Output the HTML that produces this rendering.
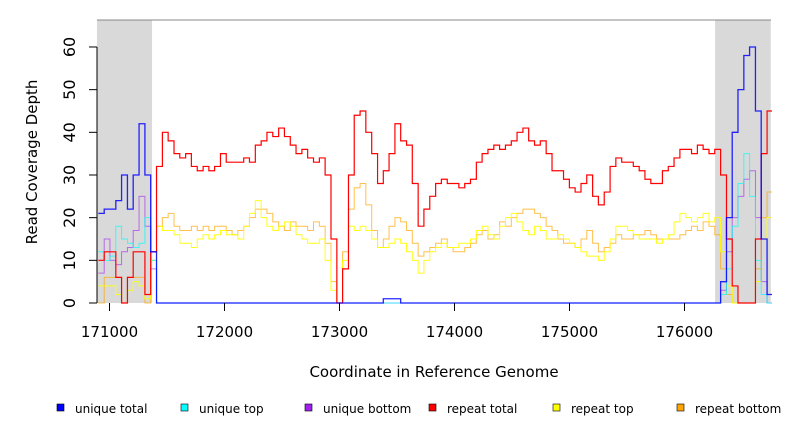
<!DOCTYPE html>
<html><head><meta charset="utf-8"><style>
html,body{margin:0;padding:0;background:#fff}
svg{display:block;font-family:"DejaVu Sans","Liberation Sans",sans-serif}
</style></head><body>
<svg id="chart" width="792" height="432"></svg>
<script>
const xTicks=[171000,172000,173000,174000,175000,176000];
const yTicks=[0,10,20,30,40,50,60];
const shaded=[[170891,171370],[176266,176750]];
const redX=[170903,170954,171004,171055,171105,171156,171206,171257,171308,171358,
171409,171460,171510,171561,171611,171662,171712,171763,171814,171864,
171914,171965,172015,172066,172116,172167,172217,172268,172319,172369,
172420,172471,172521,172572,172622,172673,172723,172774,172825,172875,
172926,172977,173027,173078,173128,173179,173229,173280,173331,173381,
173431,173482,173532,173583,173633,173684,173734,173785,173836,173886,
173937,173988,174038,174089,174139,174190,174240,174291,174342,174392,
174443,174494,174544,174595,174645,174696,174746,174797,174848,174898,
174948,174999,175049,175100,175150,175201,175251,175302,175353,175403,
175454,175505,175555,175606,175656,175707,175757,175808,175859,175909,
175960,176011,176061,176112,176162,176213,176263,176314,176365,176415,
176465,176516,176566,176617,176667,176718,176769];
const redY=[10,12,12,6,0,6,12,12,2,12,32,40,38,35,34,35,32,31,32,31,32,35,33,33,33,34,33,37,38,40,39,41,39,37,35,36,34,33,34,30,15,0,8,30,44,45,40,35,28,31,35,42,38,37,28,18,22,25,28,29,28,28,27,28,29,33,35,36,37,36,37,38,40,41,38,37,38,35,31,31,29,27,26,28,30,25,23,26,32,34,33,33,32,31,29,28,28,31,32,34,36,36,35,37,36,35,36,30,15,4,0,0,0,15,35,45,42];
const yelX=redX;
const yelY=[4,4,4,2,0,3,5,4,1,10,18,17,17,16,14,14,13,15,16,15,16,17,16,16,15,18,21,24,20,18,17,18,19,18,16,15,14,14,15,10,3,0,10,18,17,18,17,15,13,13,14,15,14,12,10,7,10,12,13,14,13,13,14,14,15,17,18,16,15,18,20,21,19,17,16,18,17,15,15,16,15,14,13,12,11,11,10,12,15,18,18,17,16,15,15,15,14,15,16,19,21,20,19,20,21,19,20,12,4,0,0,0,0,5,15,20,19];
const oraX=redX;
const oraY=[0,6,6,6,0,6,6,6,0,10,18,20,21,18,17,17,18,17,18,17,18,18,17,16,17,18,20,22,22,21,19,18,17,19,18,18,17,19,18,14,5,0,12,22,27,28,23,17,13,15,18,20,19,17,14,11,12,13,14,15,13,12,12,13,14,16,17,15,16,19,18,20,21,22,22,21,20,18,17,15,14,14,13,15,17,14,12,13,14,16,15,15,16,16,17,16,15,15,15,15,16,17,18,17,19,18,16,8,2,0,0,0,0,8,20,26,24];
const blueX=[170903,170954,171004,171055,171105,171156,171206,171257,171308,171358,171409,173381,173532,176263,176314,176365,176415,176465,176516,176566,176617,176667,176718,176769];
const blueY=[21,22,22,24,30,22,30,42,30,12,0,1,0,0,5,20,40,50,58,60,45,15,2,0];
const cyanX=[170903,170954,171004,171055,171105,171156,171206,171257,171308,171358,171409,176263,176314,176365,176415,176465,176516,176566,176617,176667,176718,176769];
const cyanY=[12,10,11,18,15,14,13,14,20,10,0,0,2,8,18,28,35,25,10,2,0,0];
const purpX=cyanX;
const purpY=[7,15,10,9,12,13,17,25,18,8,0,0,3,12,20,25,29,31,20,5,0,0];
const legendLabels=["unique total","unique top","unique bottom","repeat total","repeat top","repeat bottom"];
const legendColors=["#0000ff","#00ffff","#a020f0","#ff0000","#ffff00","#ffa500"];

const NS="http://www.w3.org/2000/svg";
const svg=document.getElementById('chart');
const L=97,R=771,T=20,B=303;
function xs(v){return 109.5+(v-171000)*0.115;}
function ys(v){return B-v*4.267;}
function mk(tag,attrs,parent){const e=document.createElementNS(NS,tag);for(const k in attrs)e.setAttribute(k,attrs[k]);(parent||svg).appendChild(e);return e;}

const defs=mk('defs',{});
const cp=mk('clipPath',{id:'plotclip'},defs);
mk('rect',{x:L,y:0,width:R-L+1,height:B+2},cp);

for(const s of shaded){const r=mk('rect',{x:xs(s[0]),y:T,width:xs(s[1])-xs(s[0]),height:B-T,fill:'#d9d9d9'});

}
const topBorder=mk('line',{x1:L,y1:T,x2:R,y2:T,stroke:'#888','stroke-width':1});



function series(X,Y,color,w,op,name){
  let d='M'+xs(X[0])+','+ys(Y[0]);
  for(let i=1;i<X.length;i++){d+='H'+xs(X[i])+'V'+ys(Y[i]);}
  const p=mk('path',{d:d,fill:'none',stroke:color,'stroke-width':w,opacity:op,'clip-path':'url(#plotclip)'});
  
  
}
series(oraX,oraY,'#ffa500',1,0.7,'series-repeat-bottom');
series(yelX,yelY,'#ffff00',1,0.9,'series-repeat-top');
series(purpX,purpY,'#a020f0',1,0.6,'series-unique-bottom');
series(cyanX,cyanY,'#00ffff',1,0.7,'series-unique-top');
series(redX,redY,'#ff0000',1.2,1,'series-repeat-total');
series(blueX,blueY,'#0000ff',1.3,0.85,'series-unique-total');

const ax=mk('line',{x1:L,y1:ys(0),x2:L,y2:ys(60),stroke:'#000'});


for(const t of yTicks){
  mk('line',{x1:L-8,y1:ys(t),x2:L,y2:ys(t),stroke:'#000'});
  const yy=ys(t);
  const tx=mk('text',{x:75,y:yy,'text-anchor':'middle','font-size':16,transform:'rotate(-90 75 '+yy+')'});tx.textContent=t;
  
  
}
for(const t of xTicks){
  mk('line',{x1:xs(t),y1:B,x2:xs(t),y2:B+8,stroke:'#000'});
  const tx=mk('text',{x:xs(t),y:337,'text-anchor':'middle','font-size':15});tx.textContent=t;
  
  
}
const xt=mk('text',{x:434,y:377,'text-anchor':'middle','font-size':15});xt.textContent='Coordinate in Reference Genome';


const yt=mk('text',{x:37,y:162,'text-anchor':'middle','font-size':15,transform:'rotate(-90 37 162)'});yt.textContent='Read Coverage Depth';


for(let i=0;i<legendLabels.length;i++){
  const x0=57+i*124;
  const g=mk('g',{});
  
  
  mk('rect',{x:x0,y:404,width:7,height:7,fill:legendColors[i],stroke:'#000','stroke-width':0.6},g);
  const tx=mk('text',{x:x0+18,y:413,'font-size':12},g);tx.textContent=legendLabels[i];
}
</script>
</body></html>
